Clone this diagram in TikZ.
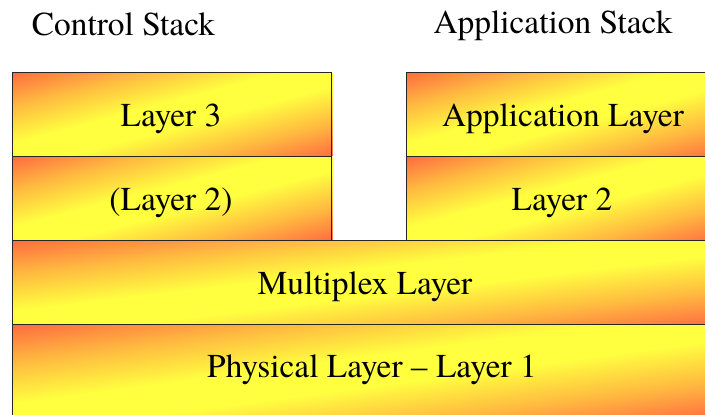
\documentclass[tikz,border=0pt]{standalone}
\usepackage{fontspec}
\setmainfont{texgyretermes}[Extension=.otf, UprightFont=*-regular, BoldFont=*-bold, ItalicFont=*-italic, BoldItalicFont=*-bolditalic, Ligatures=TeX]
\definecolor{hot}{RGB}{255,108,64}
\definecolor{warm}{RGB}{255,185,64}
\definecolor{sun}{RGB}{255,255,64}
\pgfdeclarehorizontalshading{stackshade}{100bp}{color(0bp)=(hot); color(25bp)=(hot); color(35bp)=(warm); color(46bp)=(sun); color(54bp)=(sun); color(65bp)=(warm); color(75bp)=(hot); color(100bp)=(hot)}
\pgfdeclarelayer{bg}
\pgfsetlayers{bg,main}
% #1 node name, #2 distance from corner to diagonal, #3 canvas rotation
\newcommand\gradfill[3]{%
  \begin{pgfonlayer}{bg}
  \begin{scope}
    \clip (#1.north west) rectangle (#1.south east);
    \shade[shading=stackshade, transform canvas={shift={(#1.center)}, rotate=#3}] (-#2,-420) rectangle (#2,420);
  \end{scope}
  \end{pgfonlayer}}
\begin{document}
\begin{tikzpicture}[x=1pt,y=-1pt,
  box/.style={draw=black!85, line width=1.3pt, anchor=north west, inner sep=0pt, minimum height=84pt},
  lbl/.style={anchor=base, inner sep=0pt, font=\rmfamily\fontsize{33.4}{40}\selectfont}]
\useasboundingbox (0,0) rectangle (705,415);
% left stack
\node[box, minimum width=319pt] (l3) at (12,72) {};
\node[box, minimum width=319pt] (l2c) at (12,156) {};
% right stack
\node[box, minimum width=312pt] (app) at (406,72) {};
\node[box, minimum width=312pt] (l2a) at (406,156) {};
% shared layers
\node[box, minimum width=706pt] (mux) at (12,240) {};
\node[box, minimum width=706pt, minimum height=94pt] (phy) at (12,324) {};
\gradfill{l3}{81.2}{-75.25}
\gradfill{l2c}{81.2}{-75.25}
\gradfill{app}{81.1}{-74.93}
\gradfill{l2a}{81.1}{-74.93}
\gradfill{mux}{83.4}{-83.2}
\gradfill{phy}{93.2}{-82.4}
% titles
\node[lbl] (tc) at (123.5,35) {Control Stack};
\node[lbl] (ta) at (553,34) {Application Stack};
% labels
\node[lbl] (t3) at (171,126) {Layer 3};
\node[lbl] (t2c) at (171,210) {(Layer 2)};
\node[lbl] (tapp) at (563,126) {Application Layer};
\node[lbl] (t2a) at (562,210) {Layer 2};
\node[lbl] (tmux) at (365,294) {Multiplex Layer};
\node[lbl] (tphy) at (372,377) {Physical Layer – Layer 1};
\end{tikzpicture}
\end{document}
